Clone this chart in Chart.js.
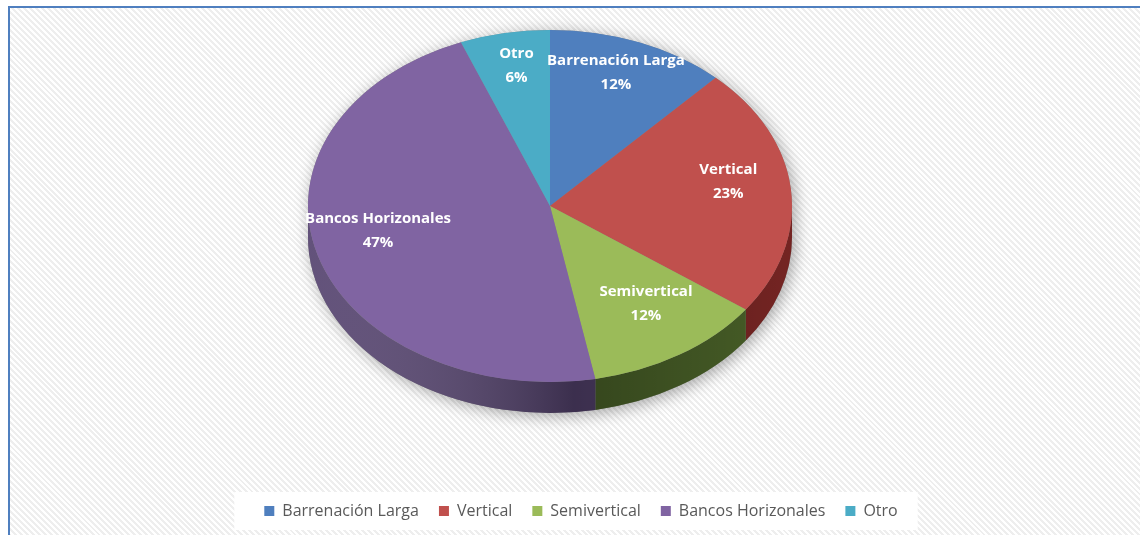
<!DOCTYPE html>
<html>
<head>
<meta charset="utf-8">
<script src="https://cdn.jsdelivr.net/npm/chart.js@4/dist/chart.umd.min.js"></script>
<style>
  html, body { margin: 0; padding: 0; background: #fff; }
  #wrap { position: relative; width: 1140px; height: 535px; overflow: hidden; }
  #frame {
    position: absolute; left: 8px; top: 6px; right: -10px; bottom: -10px;
    border-top: 2px solid #4f7fbf; border-left: 2px solid #4f7fbf;
    background: repeating-linear-gradient(45deg, #ffffff 0px, #ffffff 2.1px, #eeeeee 2.1px, #eeeeee 4.2px);
  }
  #chart { position: absolute; left: 0; top: 0; }
</style>
</head>
<body>
<div id="wrap">
  <div id="frame"></div>
  <canvas id="chart" width="1140" height="535"></canvas>
</div>
<script>
'use strict';

// -------------------- data --------------------
const categories = ['Barrenación Larga', 'Vertical', 'Semivertical', 'Bancos Horizonales', 'Otro'];
const shares = [12, 23, 12, 47, 6];
const sliceColors = ['#4f7fbe', '#c0504d', '#9bbb59', '#8064a2', '#4bacc6'];
const sideColors = ['#2f4d72', '#7a2624', '#4b6329', '#55436f', '#2d6b7c'];

// -------------------- 3D pie look --------------------
// ellipse of the top face, thickness of the wall
const pie3d = { cx: 550, cy: 206, rx: 242, ry: 176, depth: 31 };

const pie3dPlugin = {
  id: 'pie3d',
  beforeDraw(chart) {
    // white box behind the legend
    const boxes = chart.legend && chart.legend.legendHitBoxes;
    if (!boxes || !boxes.length) return;
    let l = Infinity, r = -Infinity, t = Infinity, b = -Infinity;
    boxes.forEach(h => {
      l = Math.min(l, h.left); r = Math.max(r, h.left + h.width);
      t = Math.min(t, h.top); b = Math.max(b, h.top + h.height);
    });
    const ctx = chart.ctx;
    ctx.save();
    ctx.fillStyle = '#ffffff';
    ctx.fillRect(l - 30, t - 11, r - l + 50, b - t + 22);
    ctx.restore();
  },
  beforeDatasetsDraw(chart) {
    const ctx = chart.ctx;
    const { cx, cy, rx, ry, depth } = pie3d;
    const arcs = chart.getDatasetMeta(0).data;

    // soft shadow round the whole disc
    ctx.save();
    ctx.shadowColor = 'rgba(0,0,0,0.35)';
    ctx.shadowBlur = 16;
    ctx.shadowOffsetX = 3;
    ctx.shadowOffsetY = 3;
    ctx.fillStyle = '#888';
    ctx.beginPath();
    ctx.ellipse(cx, cy, rx, ry, 0, Math.PI, 2 * Math.PI);
    ctx.ellipse(cx, cy + depth, rx, ry, 0, 0, Math.PI);
    ctx.closePath();
    ctx.fill();
    ctx.restore();

    // front wall of each slice
    arcs.forEach((arc, i) => {
      const s = Math.max(arc.startAngle, 0);
      const e = Math.min(arc.endAngle, Math.PI);
      if (e <= s) return;
      ctx.save();
      ctx.beginPath();
      ctx.ellipse(cx, cy, rx, ry, 0, s, e);
      ctx.ellipse(cx, cy + depth, rx, ry, 0, e, s, true);
      ctx.closePath();
      ctx.fillStyle = sideColors[i];
      ctx.fill();
      const g = ctx.createLinearGradient(cx - rx, 0, cx + rx, 0);
      g.addColorStop(0, 'rgba(255,255,255,0.08)');
      g.addColorStop(0.55, 'rgba(0,0,0,0.3)');
      g.addColorStop(1, 'rgba(0,0,0,0.05)');
      ctx.fillStyle = g;
      ctx.fill();
      ctx.restore();
    });

    // squash the round pie into the top face
    const a = arcs[0];
    ctx.save();
    ctx.translate(cx, cy);
    ctx.scale(rx / a.outerRadius, ry / a.outerRadius);
    ctx.translate(-a.x, -a.y);
  },
  afterDatasetsDraw(chart) {
    const ctx = chart.ctx;
    ctx.restore();

    // slice labels: name and share
    const { cx, cy, rx, ry } = pie3d;
    const total = shares.reduce((s, v) => s + v, 0);
    const arcs = chart.getDatasetMeta(0).data;
    ctx.save();
    ctx.fillStyle = '#ffffff';
    ctx.font = 'bold 15px "Open Sans", sans-serif';
    ctx.textAlign = 'center';
    ctx.textBaseline = 'middle';
    arcs.forEach((arc, i) => {
      const mid = (arc.startAngle + arc.endAngle) / 2;
      const x = cx + rx * 0.74 * Math.cos(mid);
      const y = cy - 12 + ry * 0.74 * Math.sin(mid);
      ctx.fillText(categories[i], x, y - 12);
      ctx.fillText(Math.round(shares[i] / total * 100) + '%', x, y + 12);
    });
    ctx.restore();
  }
};

// -------------------- Chart.js --------------------
{
  const ctx = document.getElementById('chart').getContext('2d');
  const myChart = new Chart(ctx, {
    type: 'pie',
    data: {
      labels: categories,
      datasets: [{
        data: shares,
        backgroundColor: sliceColors,
        borderWidth: 0,
        clip: false
      }]
    },
    options: {
      responsive: false,
      devicePixelRatio: 1,
      animation: false,
      layout: { padding: { left: 22, bottom: 6 } },
      plugins: {
        tooltip: { enabled: false },
        legend: {
          position: 'bottom',
          labels: {
            boxWidth: 10,
            boxHeight: 10,
            padding: 20,
            color: '#595959',
            font: { family: '"Open Sans", sans-serif', size: 16 }
          }
        }
      }
    },
    plugins: [pie3dPlugin]
  });
}
</script>
</body>
</html>
